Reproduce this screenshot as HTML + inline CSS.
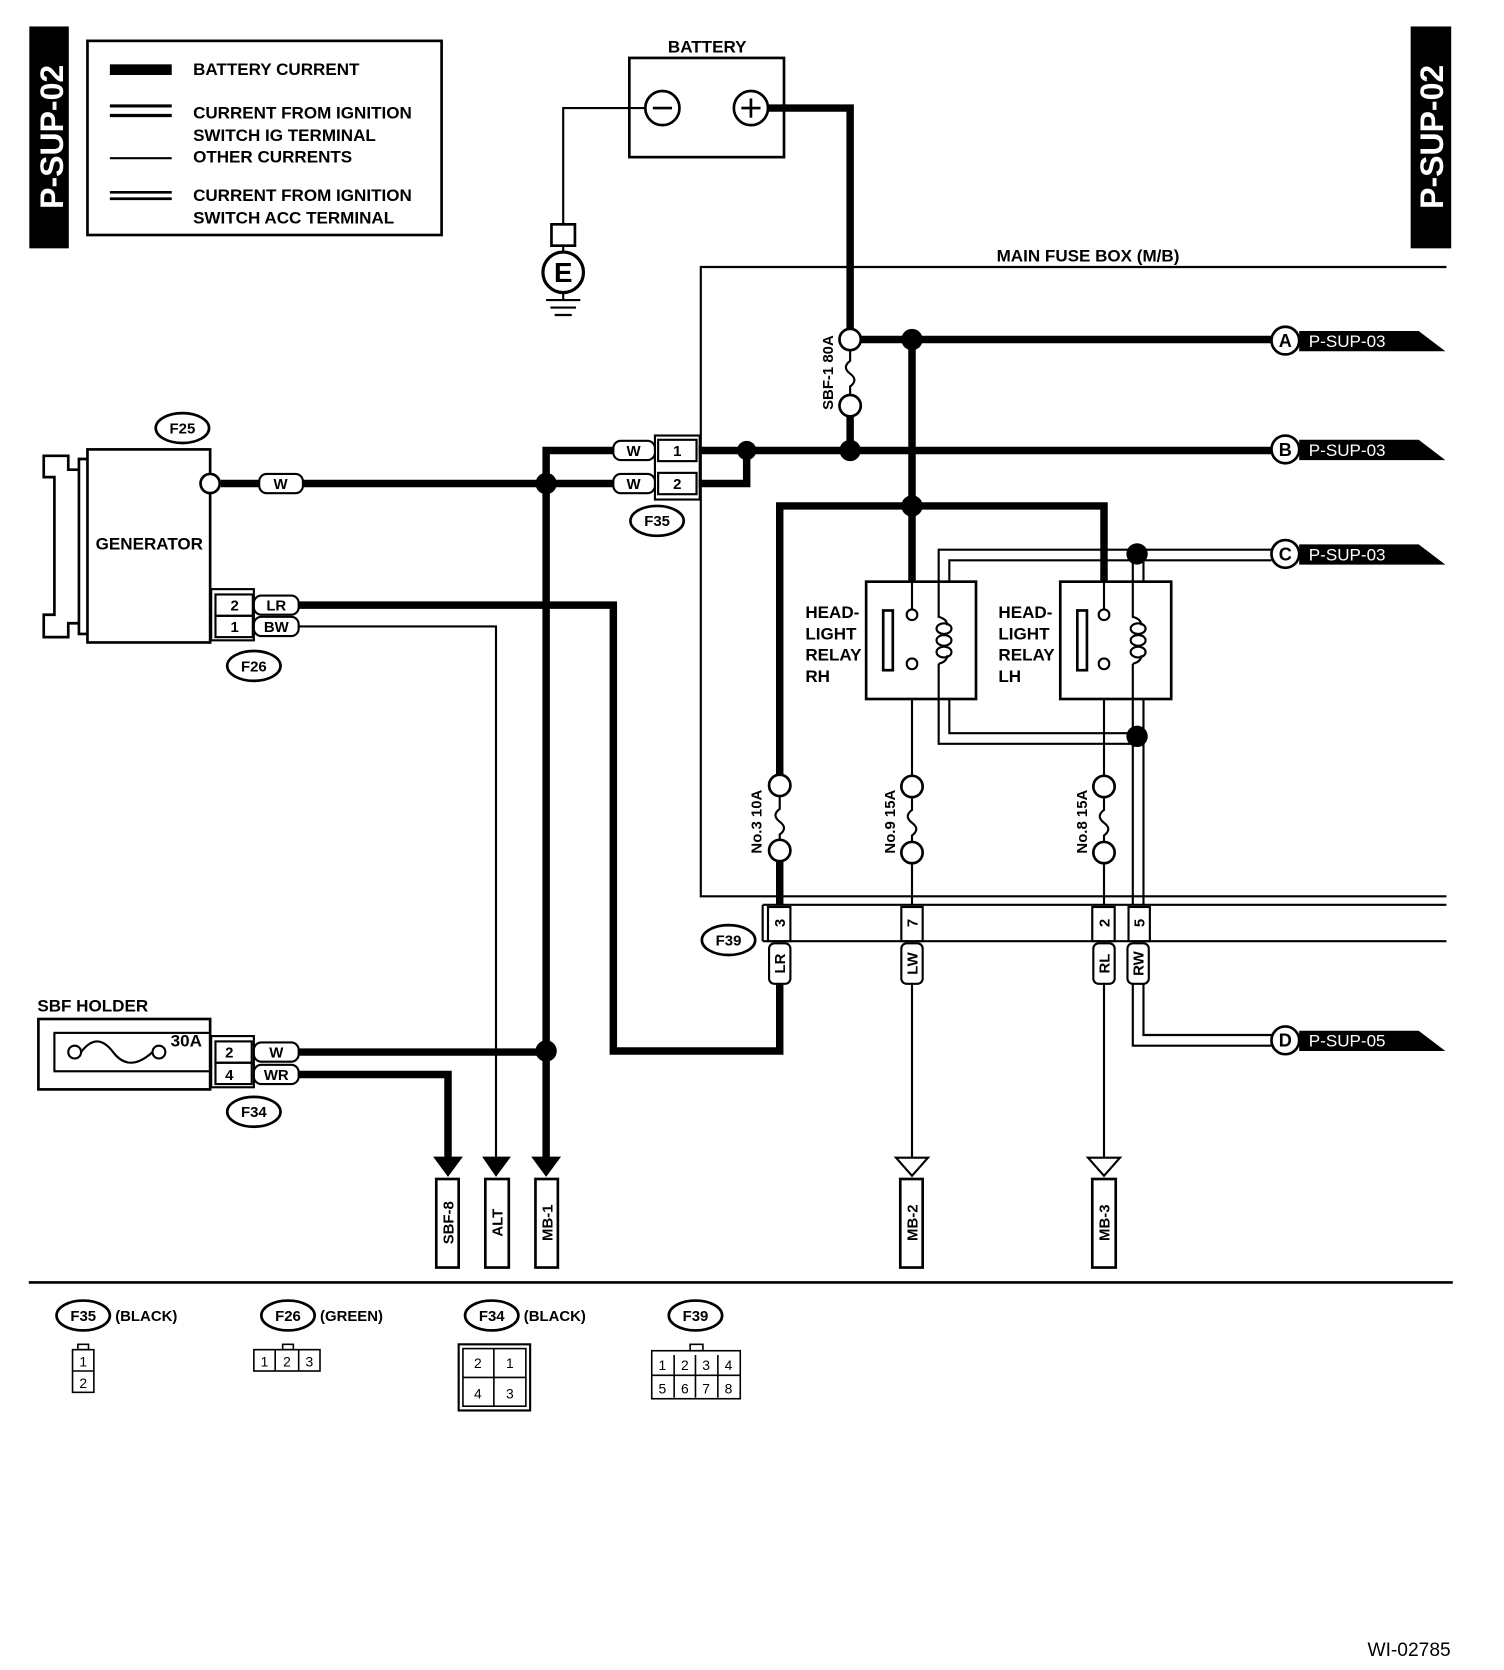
<!DOCTYPE html>
<html><head><meta charset="utf-8"><style>html,body{margin:0;padding:0;background:#fff}svg{display:block}text{font-family:"Liberation Sans",sans-serif;font-weight:bold;fill:#000}</style></head><body>
<svg width="1504" height="1670" viewBox="0 0 1410 1565" xmlns="http://www.w3.org/2000/svg">
<g stroke="#000" fill="none">
<rect x="28" y="25" width="36" height="207" fill="#000"/>
<rect x="1323" y="25" width="37" height="207" fill="#000"/>
<rect x="82" y="38" width="332" height="182" stroke-width="2.5"/>
<rect x="103" y="60" width="58" height="10" fill="#000" stroke="none"/>
<line x1="103" y1="99" x2="161" y2="99" stroke-width="3"/><line x1="103" y1="108" x2="161" y2="108" stroke-width="3"/>
<line x1="103" y1="148" x2="161" y2="148" stroke-width="2"/>
<line x1="103" y1="180" x2="161" y2="180" stroke-width="2.5"/><line x1="103" y1="186" x2="161" y2="186" stroke-width="2.5"/>
<rect x="590" y="54" width="145" height="93" stroke-width="2.5"/>
<circle cx="621" cy="101" r="16" stroke-width="2.5"/><line x1="612" y1="101" x2="630" y2="101" stroke-width="2.5"/>
<circle cx="704" cy="101" r="16" stroke-width="2.5"/><line x1="695" y1="101" x2="713" y2="101" stroke-width="2.5"/><line x1="704" y1="92" x2="704" y2="110" stroke-width="2.5"/>
<polyline points="605,101 528,101 528,210" stroke-width="2"/>
<rect x="517" y="210" width="22" height="20" stroke-width="2.5"/>
<line x1="528" y1="230" x2="528" y2="236" stroke-width="2"/>
<circle cx="528" cy="255" r="19" stroke-width="3"/>
<line x1="528" y1="274" x2="528" y2="280" stroke-width="2"/>
<line x1="512" y1="281" x2="544" y2="281" stroke-width="2"/><line x1="516" y1="288" x2="540" y2="288" stroke-width="2"/><line x1="520" y1="295" x2="536" y2="295" stroke-width="2"/>
<polyline points="720,101 797,101 797,308" stroke-width="7"/>
<polyline points="1356,250 657,250 657,840 1356,840" stroke-width="2"/>
<circle cx="797" cy="318" r="10" stroke-width="2.5" fill="#fff"/>
<circle cx="797" cy="380" r="10" stroke-width="2.5" fill="#fff"/>
<path d="M797,328 v10 q-8,6 0,12 q8,6 0,12 v8" stroke-width="2"/>
<line x1="797" y1="390" x2="797" y2="422" stroke-width="7"/>
<line x1="807" y1="318" x2="1192" y2="318" stroke-width="7"/>
<line x1="855" y1="318" x2="855" y2="545" stroke-width="7"/>
<line x1="655" y1="422" x2="1192" y2="422" stroke-width="7"/>
<polyline points="655,453 700,453 700,422" stroke-width="7"/>
<polyline points="575,422 512,422 512,1085" stroke-width="7"/>
<line x1="207" y1="453" x2="575" y2="453" stroke-width="7"/>
<polyline points="731,727 731,474 1035,474 1035,545" stroke-width="7"/>
<rect x="812" y="545" width="103" height="110" stroke-width="2.5" fill="#fff"/>
<rect x="994" y="545" width="104" height="110" stroke-width="2.5" fill="#fff"/>
<rect x="828" y="572" width="9" height="56" stroke-width="2.5"/>
<rect x="1010" y="572" width="9" height="56" stroke-width="2.5"/>
<line x1="855" y1="545" x2="855" y2="571" stroke-width="2"/><circle cx="855" cy="576" r="5" stroke-width="2"/><circle cx="855" cy="622" r="5" stroke-width="2"/>
<line x1="1035" y1="545" x2="1035" y2="571" stroke-width="2"/><circle cx="1035" cy="576" r="5" stroke-width="2"/><circle cx="1035" cy="622" r="5" stroke-width="2"/>
<g stroke-width="2">
<path d="M880,545 v33 q8,2 8,8 M880,622 v33 M880,622 q8,-2 8,-8"/>
<ellipse cx="885" cy="589" rx="7" ry="5"/><ellipse cx="885" cy="600" rx="7" ry="5"/><ellipse cx="885" cy="611" rx="7" ry="5"/>
<path d="M1062,545 v33 q8,2 8,8 M1062,622 v33 M1062,622 q8,-2 8,-8"/>
<ellipse cx="1067" cy="589" rx="7" ry="5"/><ellipse cx="1067" cy="600" rx="7" ry="5"/><ellipse cx="1067" cy="611" rx="7" ry="5"/>
</g>
<g stroke-width="2">
<polyline points="1192,515 880,515 880,545"/>
<polyline points="1192,525 890,525 890,545"/>
<line x1="1062" y1="515" x2="1062" y2="545"/><line x1="1072" y1="525" x2="1072" y2="545"/>
<polyline points="880,655 880,697 1062,697"/>
<polyline points="890,655 890,687 1062,687"/>
<line x1="1062" y1="655" x2="1062" y2="848"/><line x1="1072" y1="655" x2="1072" y2="848"/>
<polyline points="1062,920 1062,980 1192,980"/>
<polyline points="1072,920 1072,970 1192,970"/>
</g>
<g stroke-width="2.5" fill="#fff">
<circle cx="731" cy="736" r="10"/><circle cx="731" cy="797" r="10"/>
<circle cx="855" cy="737" r="10"/><circle cx="855" cy="799" r="10"/>
<circle cx="1035" cy="737" r="10"/><circle cx="1035" cy="799" r="10"/>
</g>
<path d="M731,746 v12 q-8,6 0,12 q8,6 0,12 v5 M855,747 v12 q-8,6 0,12 q8,6 0,12 v6 M1035,747 v12 q-8,6 0,12 q8,6 0,12 v6" stroke-width="2"/>
<line x1="855" y1="655" x2="855" y2="727" stroke-width="2"/>
<line x1="1035" y1="655" x2="1035" y2="727" stroke-width="2"/>
<line x1="731" y1="807" x2="731" y2="848" stroke-width="7"/>
<line x1="855" y1="809" x2="855" y2="848" stroke-width="2"/>
<line x1="1035" y1="809" x2="1035" y2="848" stroke-width="2"/>
<line x1="715" y1="848" x2="1356" y2="848" stroke-width="2"/>
<line x1="715" y1="882" x2="1356" y2="882" stroke-width="2"/>
<line x1="715" y1="848" x2="715" y2="882" stroke-width="2"/>
<g stroke-width="2" fill="#fff">
<rect x="720" y="850" width="21" height="32"/><rect x="845" y="850" width="20" height="32"/>
<rect x="1024" y="850" width="21" height="32"/><rect x="1058" y="850" width="20" height="32"/>
<rect x="721" y="884" width="20" height="38" rx="5"/><rect x="845" y="884" width="20" height="38" rx="5"/>
<rect x="1025" y="884" width="20" height="38" rx="5"/><rect x="1057" y="884" width="20" height="38" rx="5"/>
</g>
<polyline points="731,922 731,985 575,985 575,567 280,567" stroke-width="7"/>
<line x1="855" y1="922" x2="855" y2="1085" stroke-width="2"/>
<line x1="1035" y1="922" x2="1035" y2="1085" stroke-width="2"/>
<polygon points="840,1085 870,1085 855,1102" stroke-width="2" fill="#fff"/>
<polygon points="1020,1085 1050,1085 1035,1102" stroke-width="2" fill="#fff"/>
<rect x="82" y="421" width="115" height="181" stroke-width="2.5"/>
<path d="M82,430 H74 V440 H64 V427 H41 V447 H51 V576 H41 V597 H64 V584 H74 V594 H82 M74,440 V584" stroke-width="2.5"/>
<circle cx="197" cy="453" r="9" stroke-width="2.5" fill="#fff"/>
<rect x="198" y="552" width="40" height="48" stroke-width="2"/>
<rect x="202" y="557" width="35" height="20" stroke-width="2"/><rect x="202" y="577" width="35" height="20" stroke-width="2"/>
<polyline points="280,587 465,587 465,1085" stroke-width="2"/>
<rect x="36" y="955" width="161" height="66" stroke-width="2.5"/>
<rect x="51" y="968" width="146" height="36" stroke-width="2"/>
<circle cx="70" cy="986" r="6" stroke-width="2" fill="#fff"/><circle cx="149" cy="986" r="6" stroke-width="2" fill="#fff"/>
<path d="M76,986 q15,-20 30,0 q15,20 37,0" stroke-width="2"/>
<rect x="198" y="971" width="40" height="48" stroke-width="2"/>
<rect x="202" y="976" width="34" height="20" stroke-width="2"/><rect x="202" y="996" width="34" height="20" stroke-width="2"/>
<line x1="280" y1="986" x2="512" y2="986" stroke-width="7"/>
<polyline points="280,1007 420,1007 420,1085" stroke-width="7"/>
<polygon points="406,1084 434,1084 420,1103" fill="#000" stroke="none"/>
<polygon points="452,1084 479,1084 465,1103" fill="#000" stroke="none"/>
<polygon points="498,1084 526,1084 512,1103" fill="#000" stroke="none"/>
<g stroke-width="2.5" fill="#fff">
<rect x="409" y="1105" width="21" height="83"/><rect x="455" y="1105" width="22" height="83"/><rect x="502" y="1105" width="21" height="83"/>
<rect x="844" y="1105" width="21" height="83"/><rect x="1024" y="1105" width="22" height="83"/>
</g>
<rect x="614" y="408" width="42" height="60" stroke-width="2"/>
<rect x="617" y="412" width="36" height="20" stroke-width="2"/><rect x="617" y="443" width="36" height="20" stroke-width="2"/>
<g stroke-width="2" fill="#fff">
<rect x="575" y="413" width="39" height="18" rx="7"/><rect x="575" y="444" width="39" height="18" rx="7"/>
<rect x="243" y="444" width="41" height="18" rx="7"/>
<rect x="238" y="558" width="42" height="18" rx="7"/><rect x="238" y="578" width="42" height="18" rx="7"/>
<rect x="238" y="977" width="42" height="18" rx="7"/><rect x="238" y="998" width="42" height="18" rx="7"/>
</g>
<g fill="#000" stroke="none">
<circle cx="855" cy="318" r="10"/><circle cx="797" cy="422" r="10"/><circle cx="700" cy="422" r="9"/>
<circle cx="512" cy="453" r="10"/><circle cx="512" cy="985" r="10"/><circle cx="855" cy="474" r="10"/>
<circle cx="1066" cy="519" r="10"/><circle cx="1066" cy="690" r="10"/>
</g>
<g stroke-width="2.5" fill="#fff">
<circle cx="1205" cy="319" r="13"/><circle cx="1205" cy="421" r="13"/><circle cx="1205" cy="519" r="13"/><circle cx="1205" cy="975" r="13"/>
</g>
<g fill="#000" stroke="none">
<polygon points="1218,310 1330,310 1355,329 1218,329"/>
<polygon points="1218,412 1330,412 1355,431 1218,431"/>
<polygon points="1218,510 1330,510 1355,529 1218,529"/>
<polygon points="1218,966 1330,966 1355,985 1218,985"/>
</g>
<g stroke-width="2.5" fill="#fff">
<ellipse cx="171" cy="401" rx="25" ry="14"/><ellipse cx="616" cy="488" rx="25" ry="14"/>
<ellipse cx="238" cy="624" rx="25" ry="14"/><ellipse cx="238" cy="1042" rx="25" ry="14"/>
<ellipse cx="683" cy="881" rx="25" ry="14"/>
<ellipse cx="78" cy="1233" rx="25" ry="14"/><ellipse cx="270" cy="1233" rx="25" ry="14"/>
<ellipse cx="461" cy="1233" rx="25" ry="14"/><ellipse cx="652" cy="1233" rx="25" ry="14"/>
</g>
<line x1="27" y1="1202" x2="1362" y2="1202" stroke-width="2.5"/>
<g stroke-width="1.5">
<rect x="73" y="1260" width="10" height="5"/><rect x="68" y="1265" width="20" height="40"/><line x1="68" y1="1285" x2="88" y2="1285"/>
<rect x="265" y="1260" width="10" height="5"/><rect x="238" y="1265" width="62" height="20"/><line x1="258" y1="1265" x2="258" y2="1285"/><line x1="280" y1="1265" x2="280" y2="1285"/>
<rect x="430" y="1260" width="67" height="62" stroke-width="2"/><rect x="434" y="1264" width="59" height="54"/>
<line x1="463" y1="1264" x2="463" y2="1318"/><line x1="434" y1="1291" x2="493" y2="1291"/>
<rect x="647" y="1260" width="12" height="6"/><rect x="611" y="1266" width="83" height="45"/>
<line x1="611" y1="1289" x2="694" y2="1289"/>
<line x1="632" y1="1270" x2="632" y2="1310"/><line x1="652" y1="1270" x2="652" y2="1310"/><line x1="673" y1="1270" x2="673" y2="1310"/>
</g>
</g>
<text transform="translate(59,128) rotate(-90)" text-anchor="middle" font-size="30" style="fill:#fff">P-SUP-02</text>
<text transform="translate(1353,128) rotate(-90)" text-anchor="middle" font-size="30" style="fill:#fff">P-SUP-02</text>
<text x="528" y="264" text-anchor="middle" font-size="26">E</text>
<g font-size="16">
<text x="181" y="70">BATTERY CURRENT</text>
<text x="181" y="111">CURRENT FROM IGNITION</text>
<text x="181" y="132">SWITCH IG TERMINAL</text>
<text x="181" y="152">OTHER CURRENTS</text>
<text x="181" y="188">CURRENT FROM IGNITION</text>
<text x="181" y="209">SWITCH ACC TERMINAL</text>
<text x="663" y="49" text-anchor="middle">BATTERY</text>
<text x="1020" y="245" text-anchor="middle">MAIN FUSE BOX (M/B)</text>
<text x="140" y="515" text-anchor="middle">GENERATOR</text>
<text x="35" y="948">SBF HOLDER</text>
<text x="160" y="981">30A</text>
<text x="755" y="579">HEAD-</text><text x="755" y="599">LIGHT</text><text x="755" y="619">RELAY</text><text x="755" y="639">RH</text>
<text x="936" y="579">HEAD-</text><text x="936" y="599">LIGHT</text><text x="936" y="619">RELAY</text><text x="936" y="639">LH</text>
</g>
<g font-size="14">
<text x="171" y="406" text-anchor="middle">F25</text>
<text x="616" y="493" text-anchor="middle">F35</text>
<text x="238" y="629" text-anchor="middle">F26</text>
<text x="238" y="1047" text-anchor="middle">F34</text>
<text x="683" y="886" text-anchor="middle">F39</text>
<text x="594" y="427" text-anchor="middle">W</text><text x="594" y="458" text-anchor="middle">W</text>
<text x="263" y="458" text-anchor="middle">W</text>
<text x="259" y="572" text-anchor="middle">LR</text><text x="259" y="592" text-anchor="middle">BW</text>
<text x="259" y="991" text-anchor="middle">W</text><text x="259" y="1012" text-anchor="middle">WR</text>
<text x="635" y="427" text-anchor="middle">1</text><text x="635" y="458" text-anchor="middle">2</text>
<text x="220" y="572" text-anchor="middle">2</text><text x="220" y="592" text-anchor="middle">1</text>
<text x="215" y="991" text-anchor="middle">2</text><text x="215" y="1012" text-anchor="middle">4</text>
<text x="1205" y="325" text-anchor="middle" font-size="17">A</text>
<text x="1205" y="427" text-anchor="middle" font-size="17">B</text>
<text x="1205" y="525" text-anchor="middle" font-size="17">C</text>
<text x="1205" y="981" text-anchor="middle" font-size="17">D</text>
<text x="1227" y="325" style="fill:#fff;font-weight:normal" font-size="16">P-SUP-03</text>
<text x="1227" y="427" style="fill:#fff;font-weight:normal" font-size="16">P-SUP-03</text>
<text x="1227" y="525" style="fill:#fff;font-weight:normal" font-size="16">P-SUP-03</text>
<text x="1227" y="981" style="fill:#fff;font-weight:normal" font-size="16">P-SUP-05</text>
<text transform="translate(781,349) rotate(-90)" text-anchor="middle">SBF-1 80A</text>
<text transform="translate(714,770) rotate(-90)" text-anchor="middle">No.3 10A</text>
<text transform="translate(839,770) rotate(-90)" text-anchor="middle">No.9 15A</text>
<text transform="translate(1019,770) rotate(-90)" text-anchor="middle">No.8 15A</text>
<text transform="translate(736,865) rotate(-90)" text-anchor="middle">3</text>
<text transform="translate(860,865) rotate(-90)" text-anchor="middle">7</text>
<text transform="translate(1040,865) rotate(-90)" text-anchor="middle">2</text>
<text transform="translate(1073,865) rotate(-90)" text-anchor="middle">5</text>
<text transform="translate(736,903) rotate(-90)" text-anchor="middle">LR</text>
<text transform="translate(860,903) rotate(-90)" text-anchor="middle">LW</text>
<text transform="translate(1040,903) rotate(-90)" text-anchor="middle">RL</text>
<text transform="translate(1072,903) rotate(-90)" text-anchor="middle">RW</text>
<text transform="translate(425,1146) rotate(-90)" text-anchor="middle">SBF-8</text>
<text transform="translate(471,1146) rotate(-90)" text-anchor="middle">ALT</text>
<text transform="translate(518,1146) rotate(-90)" text-anchor="middle">MB-1</text>
<text transform="translate(860,1146) rotate(-90)" text-anchor="middle">MB-2</text>
<text transform="translate(1040,1146) rotate(-90)" text-anchor="middle">MB-3</text>
<text x="78" y="1238" text-anchor="middle">F35</text><text x="108" y="1238">(BLACK)</text>
<text x="270" y="1238" text-anchor="middle">F26</text><text x="300" y="1238">(GREEN)</text>
<text x="461" y="1238" text-anchor="middle">F34</text><text x="491" y="1238">(BLACK)</text>
<text x="652" y="1238" text-anchor="middle">F39</text>
</g>
<g font-size="13" text-anchor="middle">
<text x="78" y="1281" style="font-weight:normal">1</text><text x="78" y="1301" style="font-weight:normal">2</text>
<text x="248" y="1281" style="font-weight:normal">1</text><text x="269" y="1281" style="font-weight:normal">2</text><text x="290" y="1281" style="font-weight:normal">3</text>
<text x="448" y="1282" style="font-weight:normal">2</text><text x="478" y="1282" style="font-weight:normal">1</text>
<text x="448" y="1311" style="font-weight:normal">4</text><text x="478" y="1311" style="font-weight:normal">3</text>
<text x="621" y="1284" style="font-weight:normal">1</text><text x="642" y="1284" style="font-weight:normal">2</text><text x="662" y="1284" style="font-weight:normal">3</text><text x="683" y="1284" style="font-weight:normal">4</text>
<text x="621" y="1306" style="font-weight:normal">5</text><text x="642" y="1306" style="font-weight:normal">6</text><text x="662" y="1306" style="font-weight:normal">7</text><text x="683" y="1306" style="font-weight:normal">8</text>
</g>
<text x="1360" y="1552" text-anchor="end" font-size="18" style="font-weight:normal">WI-02785</text>
</svg>
</body></html>
